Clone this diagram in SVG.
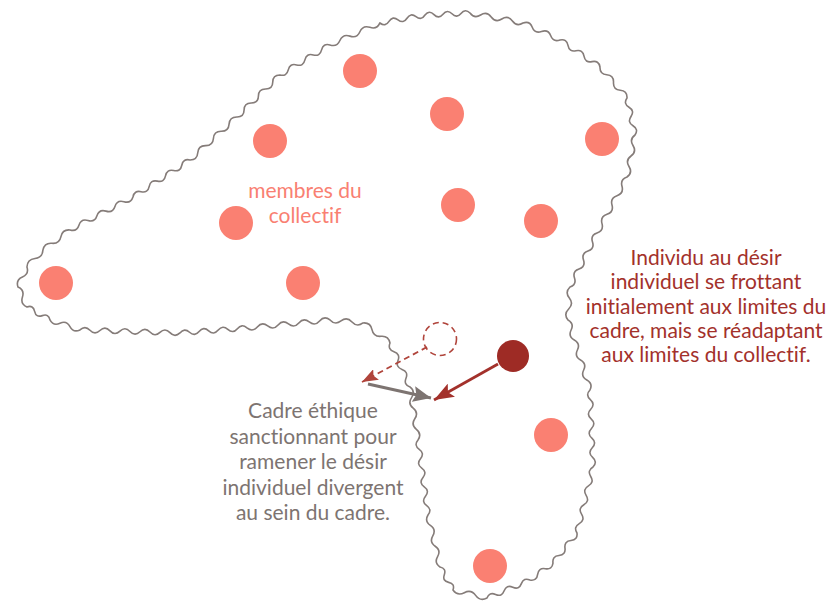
<svg xmlns="http://www.w3.org/2000/svg" width="834" height="601" viewBox="0 0 834 601">
<style>
.dot{fill:#FA8072;}
.t{font-family:Lato,"Open Sans","Liberation Sans",sans-serif;font-size:21px;text-anchor:middle;font-variant-ligatures:none;font-feature-settings:"liga" 0,"dlig" 0;}
.pink{fill:#F98072;}
.red{fill:#A3312B;}
.gray{fill:#7D7471;}
.frame{fill:none;stroke:#857C79;stroke-width:1.6;stroke-linejoin:round;}
</style>
<defs>
<marker id="ahRed" markerUnits="userSpaceOnUse" markerWidth="20" markerHeight="15" viewBox="0 0 20 15" refX="20" refY="7.5" orient="auto"><path d="M0,0 L20,7.5 L0,15 L4,7.5 z" fill="#A3312B"/></marker>
<marker id="ahRed2" markerUnits="userSpaceOnUse" markerWidth="16" markerHeight="12" viewBox="0 0 16 12" refX="16" refY="6" orient="auto"><path d="M0,0 L16,6 L0,12 L3,6 z" fill="#B0443B"/></marker>
<marker id="ahGray" markerUnits="userSpaceOnUse" markerWidth="18" markerHeight="16" viewBox="0 0 18 16" refX="18" refY="8" orient="auto"><path d="M0,0 L18,8 L0,16 L3,8 z" fill="#7D7471"/></marker>
</defs>
<g id="cadre">
<path class="frame" d="M380,23
q5.38,4.12 9,-1.6 t9,-1.6 9,-1.6 9,-1.6 9,-1.6
q4.28,-5.2 9,-0.4 t9,-0.4 9,-0.4 9,-0.4 9,-0.4
q4.37,5.91 10.6,2 t10.6,2 10.6,2 10.6,2 10.6,2
q6.71,-2.42 9.25,4.25 t9.25,4.25 9.25,4.25 9.25,4.25
q6.8,-1.44 8,5.4 t8,5.4 8,5.4 8,5.4 8,5.4
q-0.4,7.16 6.75,7.75 t6.75,7.75 6.75,7.75 6.75,7.75
q-3.89,5.69 2,9.25 t2,9.25 2,9.25 2,9.25
q-5.91,4.31 -2,10.5 t-2,10.5 -2,10.5 -2,10.5
q-6.91,2.31 -5,9.33 t-5,9.33 -5,9.33 -5,9.33 -5,9.33 -5,9.33
q-6.72,2.26 -4.5,9 t-4.5,9 -4.5,9 -4.5,9 -4.5,9 -4.5,9
q-5.32,5.2 -0.67,11 t-0.67,11 -0.67,11
q6.34,3.5 3.14,10 t3.14,10 3.14,10 3.14,10 3.14,10 3.14,10 3.14,10
q-4.81,5 0.38,9.63 t0.38,9.63 0.38,9.63 0.38,9.63 0.38,9.63 0.38,9.63 0.38,9.63 0.38,9.63
q-6,3.53 -2.29,9.43 t-2.29,9.43 -2.29,9.43 -2.29,9.43 -2.29,9.43 -2.29,9.43 -2.29,9.43
q0.9,6.87 -6,7.5 t-6,7.5 -6,7.5 -6,7.5
q-0.86,6.85 -7.67,5.67 t-7.67,5.67 -7.67,5.67
q-6.23,-2.81 -8.6,3.6 t-8.6,3.6 -8.6,3.6 -8.6,3.6 -8.6,3.6
q-6.82,3.54 -11.33,-2.67 t-11.33,-2.67 -11.33,-2.67
q2.18,-6.29 -4.33,-7.67 t-4.33,-7.67 -4.33,-7.67
q-6.07,-4.08 -2.4,-10.4 t-2.4,-10.4 -2.4,-10.4 -2.4,-10.4 -2.4,-10.4
q4.34,-5.35 -1.25,-9.38 t-1.25,-9.38 -1.25,-9.38 -1.25,-9.38 -1.25,-9.38 -1.25,-9.38 -1.25,-9.38 -1.25,-9.38
q4.14,-6.05 -1.6,-10.6 t-1.6,-10.6 -1.6,-10.6 -1.6,-10.6 -1.6,-10.6
q-6.55,-2.33 -4,-8.8 t-4,-8.8 -4,-8.8 -4,-8.8 -4,-8.8
q-1.52,-7.35 -9,-6.67 t-9,-6.67 -9,-6.67
q-5.95,4.48 -11,-1 t-11,-1 -11,-1
q-5.67,-4.48 -10.38,1 t-10.38,1 -10.38,1 -10.38,1 -10.38,1 -10.38,1 -10.38,1 -10.38,1
q-5.16,-4.63 -9.57,0.71 t-9.57,0.71 -9.57,0.71 -9.57,0.71 -9.57,0.71 -9.57,0.71 -9.57,0.71
q-5.15,4.85 -10,-0.3 t-10,-0.3 -10,-0.3 -10,-0.3 -10,-0.3 -10,-0.3 -10,-0.3 -10,-0.3 -10,-0.3 -10,-0.3
q-6.58,3.07 -10,-3.33 t-10,-3.33 -10,-3.33
q-1.37,-6.52 -7.67,-4.33 t-7.67,-4.33 -7.67,-4.33
q-6.81,-2.95 -4.5,-10 t-4.5,-10
q-2.31,-7.05 4.5,-10 t4.5,-10
q0.36,-7.68 8,-8.5 t8,-8.5
q1.52,-7.35 9,-6.67 t9,-6.67 9,-6.67
q6.82,2.07 9,-4.71 t9,-4.71 9,-4.71 9,-4.71 9,-4.71 9,-4.71 9,-4.71
q1.35,-6.83 8.14,-5.29 t8.14,-5.29 8.14,-5.29 8.14,-5.29 8.14,-5.29 8.14,-5.29 8.14,-5.29
q7.3,0.11 7.83,-7.17 t7.83,-7.17 7.83,-7.17 7.83,-7.17 7.83,-7.17 7.83,-7.17
q7.07,0.08 7.17,-7 t7.17,-7 7.17,-7 7.17,-7 7.17,-7 7.17,-7
q6.74,1.79 8.33,-5 t8.33,-5 8.33,-5 8.33,-5 8.33,-5 8.33,-5
q7.01,2.38 10,-4.4 t10,-4.4 10,-4.4 10,-4.4 10,-4.4 Z"/>
</g>
<g id="membres">
<circle id="m1" class="dot" cx="360" cy="71" r="17"/>
<circle id="m2" class="dot" cx="447" cy="114" r="17"/>
<circle id="m3" class="dot" cx="270" cy="141" r="17"/>
<circle id="m4" class="dot" cx="602" cy="139" r="17"/>
<circle id="m5" class="dot" cx="458" cy="205" r="17"/>
<circle id="m6" class="dot" cx="541" cy="221" r="17"/>
<circle id="m7" class="dot" cx="236" cy="223" r="17"/>
<circle id="m8" class="dot" cx="56" cy="283" r="17"/>
<circle id="m9" class="dot" cx="303" cy="283" r="17"/>
<circle id="m10" class="dot" cx="551" cy="435" r="17"/>
<circle id="m11" class="dot" cx="490" cy="566" r="17"/>
</g>
<g id="individu-initial">
<circle cx="440" cy="339" r="16.5" fill="none" stroke="#B0443B" stroke-width="1.6" stroke-dasharray="6 4"/>
</g>
<g id="individu">
<circle cx="513" cy="356" r="16" fill="#9E2B25"/>
</g>
<g id="connectors">
<path d="M498,364 L434,400" stroke="#A3312B" stroke-width="2.8" fill="none" marker-end="url(#ahRed)"/>
<path d="M427,347 L362,382" stroke="#B0443B" stroke-width="1.8" stroke-dasharray="6 4" fill="none" marker-end="url(#ahRed2)"/>
<path d="M368,384 L431,398" stroke="#7D7471" stroke-width="3" fill="none" marker-end="url(#ahGray)"/>
</g>
<g id="label-membres">
<text class="t pink" x="305" y="198" font-size="20">membres du</text>
<text class="t pink" x="305" y="223" font-size="20">collectif</text>
</g>
<g id="label-individu">
<text class="t red" x="706" y="265">Individu au désir</text>
<text class="t red" x="706" y="289">individuel se frottant</text>
<text class="t red" x="706" y="313.5">initialement aux limites du</text>
<text class="t red" x="706" y="338">cadre, mais se réadaptant</text>
<text class="t red" x="706" y="362">aux limites du collectif.</text>
</g>
<g id="label-cadre">
<text class="t gray" x="313" y="418">Cadre éthique</text>
<text class="t gray" x="313" y="443.5">sanctionnant pour</text>
<text class="t gray" x="313" y="469">ramener le désir</text>
<text class="t gray" x="313" y="494.5">individuel divergent</text>
<text class="t gray" x="313" y="520">au sein du cadre.</text>
</g>
</svg>
